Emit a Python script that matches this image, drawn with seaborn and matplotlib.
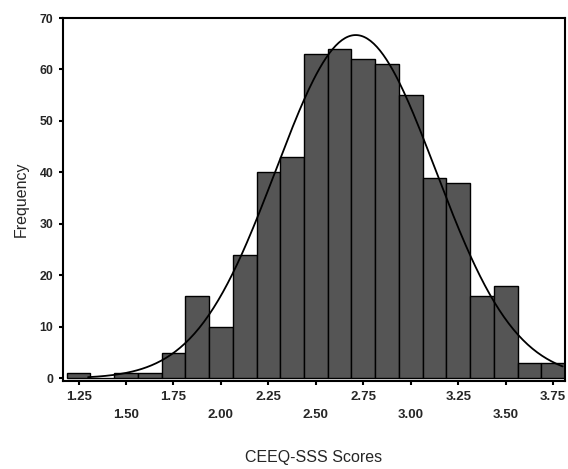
import numpy as np
import pandas as pd
import matplotlib
matplotlib.use("Agg")
import matplotlib.pyplot as plt
import seaborn as sns

# Data
bin_centers = [1.25, 1.375, 1.5, 1.625, 1.75, 1.875, 2.0, 2.125, 2.25, 2.375,
               2.5, 2.625, 2.75, 2.875, 3.0, 3.125, 3.25, 3.375, 3.5, 3.625, 3.75]
frequencies = [1, 0, 1, 1, 5, 16, 10, 24, 40, 43,
               63, 64, 62, 61, 55, 39, 38, 16, 18, 3, 3]
bin_width = 0.125
curve_mean = 2.71
curve_sd = 0.421
x_ticks = [1.25, 1.50, 1.75, 2.00, 2.25, 2.50, 2.75, 3.00, 3.25, 3.50, 3.75]
y_ticks = [0, 10, 20, 30, 40, 50, 60, 70]

sns.set_style("ticks")
plt.rcParams['font.family'] = ['Liberation Sans', 'DejaVu Sans']

fig = plt.figure(figsize=(5.68, 4.69), dpi=100)
# axes from x=63..565 px, y=18..381 px
ax = fig.add_axes([63 / 568, 1 - 381 / 469, (565 - 63) / 568, (381 - 18) / 469])

df = pd.DataFrame({"score": bin_centers, "freq": frequencies})
lo = bin_centers[0] - bin_width / 2
hi = bin_centers[-1] + bin_width / 2
sns.histplot(data=df, x="score", weights="freq", binwidth=bin_width,
             binrange=(lo, hi), color="#555555", edgecolor="black",
             linewidth=1.0, alpha=1.0, ax=ax)

n_total = sum(frequencies)
xs = np.linspace(1.3, 3.8, 300)
ys = n_total * bin_width / (curve_sd * np.sqrt(2 * np.pi)) * np.exp(-0.5 * ((xs - curve_mean) / curve_sd) ** 2)
sns.lineplot(x=xs, y=ys, color="black", linewidth=1.3, ax=ax)

ax.set_xlim(1.168, hi)
ax.set_ylim(-0.5, 70)
ax.set_xticks(x_ticks)
labels = []
for i, t in enumerate(x_ticks):
    s = f"{t:.2f}"
    labels.append(s if i % 2 == 0 else "\n" + s)
ax.set_xticklabels(labels, fontsize=9.5, fontweight="bold", linespacing=1.65)
ax.set_yticks(y_ticks)
ax.set_yticklabels([str(v) for v in y_ticks], fontsize=8.8, fontweight="bold")
ax.tick_params(axis="both", direction="out", length=3, width=1.5, color="black")
ax.tick_params(axis="x", pad=4)
ax.tick_params(axis="y", pad=4)

for sp in ax.spines.values():
    sp.set_visible(True)
    sp.set_linewidth(1.5)
    sp.set_color("black")

ax.set_xlabel("CEEQ-SSS Scores", fontsize=11.5, labelpad=21)
ax.set_ylabel("Frequency", fontsize=11.5, labelpad=8)

fig.savefig("out.png", dpi=100)
